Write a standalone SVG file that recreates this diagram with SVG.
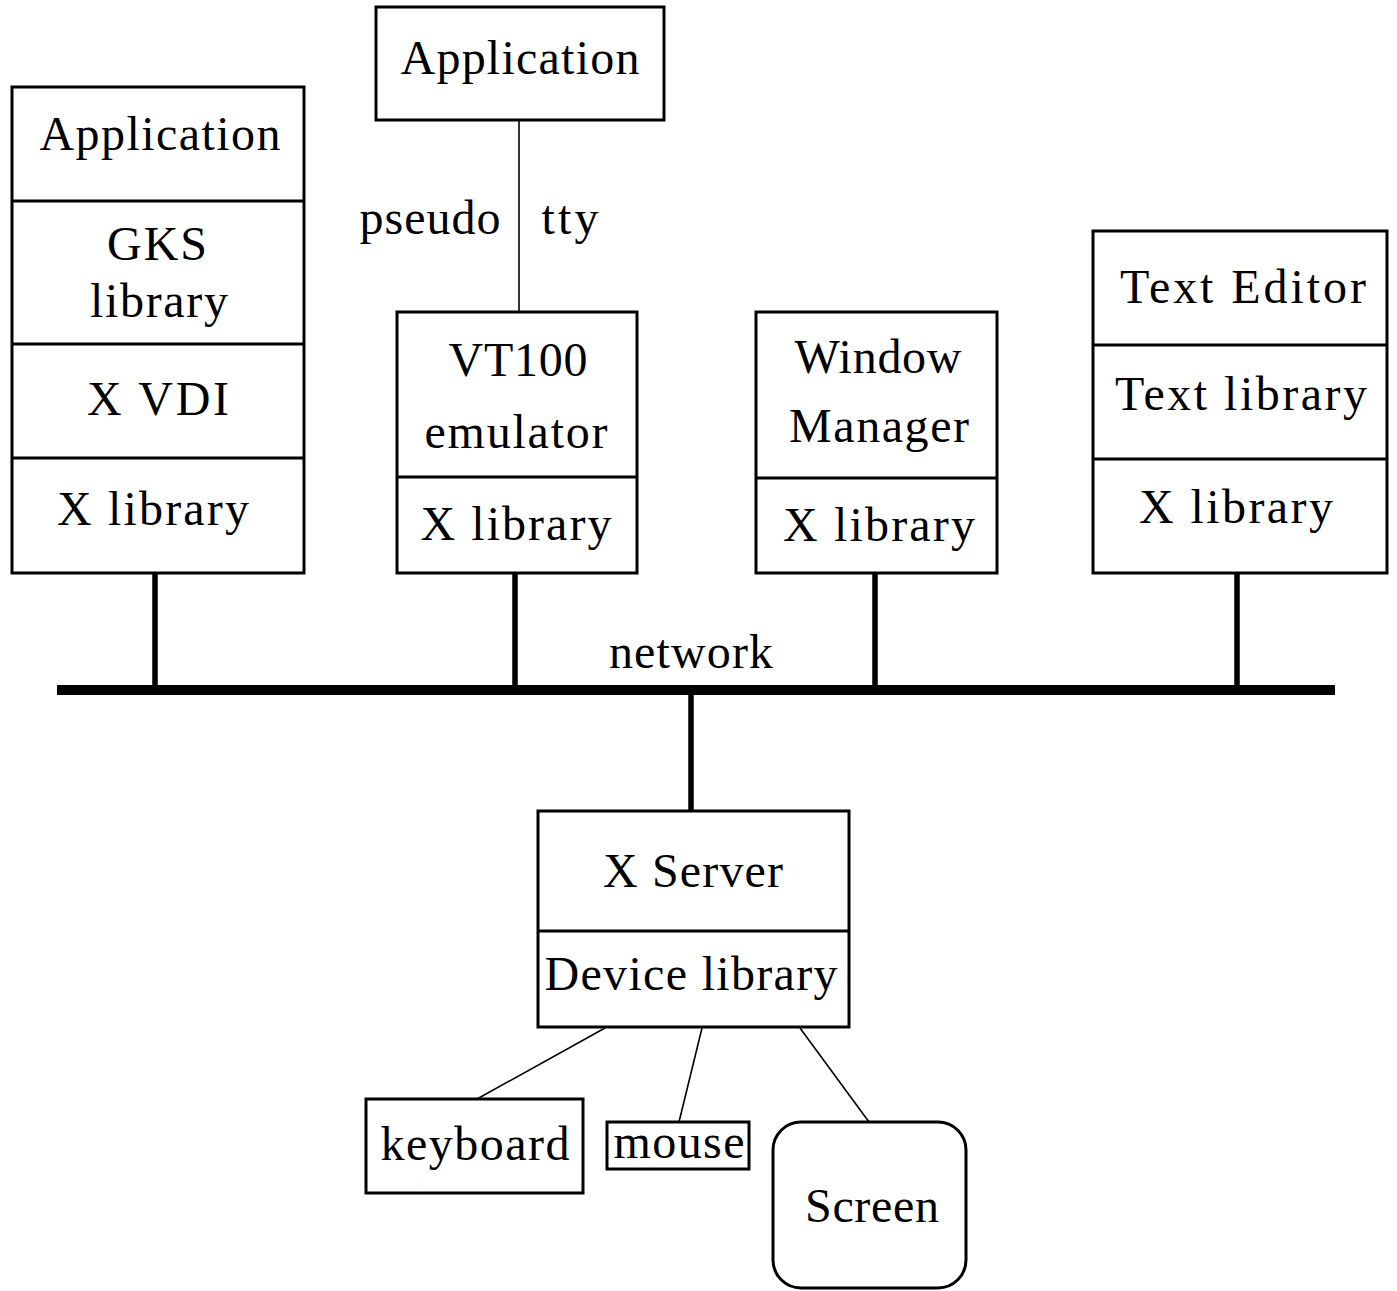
<svg xmlns="http://www.w3.org/2000/svg" width="1397" height="1291" viewBox="0 0 1397 1291">
<style>
.box{fill:#fff;stroke:#000;stroke-width:3}
.div{stroke:#000;stroke-width:3}
.t{font-family:"Liberation Serif","DejaVu Serif",serif;font-size:48px;fill:#000;text-anchor:middle}
.thin{stroke:#000;stroke-width:1.6;fill:none}
.drop{stroke:#000;stroke-width:5.5;fill:none}
.bus{stroke:#000;stroke-width:10;fill:none}
</style>
<rect width="1397" height="1291" fill="#fff"/>
<g id="connectors">
<line class="thin" x1="519" y1="120" x2="519" y2="312"/>
<line class="drop" x1="155" y1="573" x2="155" y2="690"/>
<line class="drop" x1="515" y1="573" x2="515" y2="690"/>
<line class="drop" x1="875" y1="573" x2="875" y2="690"/>
<line class="drop" x1="1237" y1="573" x2="1237" y2="690"/>
<line class="bus" x1="57" y1="690" x2="1335" y2="690"/>
<line class="drop" x1="691" y1="690" x2="691" y2="811"/>
<line class="thin" x1="605" y1="1028" x2="477" y2="1099"/>
<line class="thin" x1="702" y1="1028" x2="679" y2="1122"/>
<line class="thin" x1="800" y1="1028" x2="869" y2="1122"/>
<text class="t" x="691" y="668" textLength="164">network</text>
<text class="t" x="430" y="234" textLength="141">pseudo</text>
<text class="t" x="570" y="234" textLength="57">tty</text>
</g>
<g id="gks-stack">
<rect class="box" x="12" y="87" width="292" height="486"/>
<line class="div" x1="12" y1="201" x2="304" y2="201"/>
<line class="div" x1="12" y1="344" x2="304" y2="344"/>
<line class="div" x1="12" y1="458" x2="304" y2="458"/>
<text class="t" x="160" y="150" textLength="241">Application</text>
<text class="t" x="157" y="260" textLength="100">GKS</text>
<text class="t" x="159" y="317" textLength="138">library</text>
<text class="t" x="158" y="415" textLength="142">X VDI</text>
<text class="t" x="153" y="525" textLength="192">X library</text>
</g>
<g id="app-top">
<rect class="box" x="376" y="7" width="288" height="113"/>
<text class="t" x="520" y="74" textLength="239">Application</text>
</g>
<g id="vt100">
<rect class="box" x="397" y="312" width="240" height="261"/>
<line class="div" x1="397" y1="477" x2="637" y2="477"/>
<text class="t" x="518" y="376" textLength="139">VT100</text>
<text class="t" x="516" y="448" textLength="183">emulator</text>
<text class="t" x="516" y="540" textLength="191">X library</text>
</g>
<g id="window-manager">
<rect class="box" x="756" y="312" width="241" height="261"/>
<line class="div" x1="756" y1="478" x2="997" y2="478"/>
<text class="t" x="878" y="373" textLength="167">Window</text>
<text class="t" x="879" y="442" textLength="180">Manager</text>
<text class="t" x="879" y="541" textLength="192">X library</text>
</g>
<g id="text-editor">
<rect class="box" x="1093" y="231" width="294" height="342"/>
<line class="div" x1="1093" y1="345" x2="1387" y2="345"/>
<line class="div" x1="1093" y1="459" x2="1387" y2="459"/>
<text class="t" x="1243" y="303" textLength="246">Text Editor</text>
<text class="t" x="1241" y="410" textLength="252">Text library</text>
<text class="t" x="1236" y="523" textLength="194">X library</text>
</g>
<g id="x-server">
<rect class="box" x="538" y="811" width="311" height="216"/>
<line class="div" x1="538" y1="931" x2="849" y2="931"/>
<text class="t" x="693" y="887" textLength="180">X Server</text>
<text class="t" x="691" y="990" textLength="293">Device library</text>
</g>
<g id="keyboard">
<rect class="box" x="366" y="1099" width="217" height="94"/>
<text class="t" x="475" y="1160" textLength="189">keyboard</text>
</g>
<g id="mouse">
<rect class="box" x="607" y="1122" width="142" height="47"/>
<text class="t" x="679" y="1158" textLength="131">mouse</text>
</g>
<g id="screen">
<rect class="box" x="773" y="1122" width="193" height="166" rx="28"/>
<text class="t" x="872" y="1222" textLength="134">Screen</text>
</g>
</svg>
